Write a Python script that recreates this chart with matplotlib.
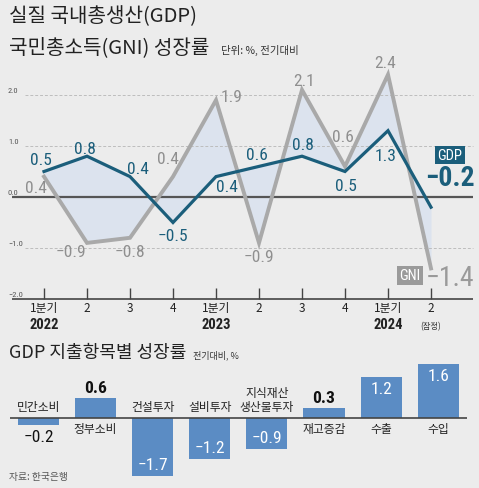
import matplotlib
matplotlib.use("Agg")
import matplotlib.pyplot as plt

# --- data ---
quarters = ["1분기", "2", "3", "4", "1분기", "2", "3", "4", "1분기", "2"]
years = {0: "2022", 4: "2023", 8: "2024"}
gdp = [0.5, 0.8, 0.4, -0.5, 0.4, 0.6, 0.8, 0.5, 1.3, -0.2]
gni = [0.4, -0.9, -0.8, 0.4, 1.9, -0.9, 2.1, 0.6, 2.4, -1.4]

items = ["민간소비", "정부소비", "건설투자", "설비투자", "지식재산\n생산물투자", "재고증감", "수출", "수입"]
item_vals = [-0.2, 0.6, -1.7, -1.2, -0.9, 0.3, 1.2, 1.6]

BG = "#ececec"
TEAL = "#1b5e7b"
GRAY = "#a9a9a9"
FILL = "#dce3ee"
BAR = "#5b8cc4"
KR = ["Noto Sans CJK KR", "DejaVu Sans"]
NARROW = ["Roboto Condensed", "Fira Sans Condensed", "DejaVu Sans"]

W, H = 479, 489
fig = plt.figure(figsize=(W / 100, H / 100), dpi=100, facecolor=BG)


def rect(x0, y0, x1, y1):
    return [x0 / W, 1 - y1 / H, (x1 - x0) / W, (y1 - y0) / H]


def num(v):
    return f"{v}".replace("-", "−")


# --- titles ---
fig.text(9 / W, 1 - 17 / H, "실질 국내총생산(GDP)", family=KR, fontsize=14.5,
         fontweight=500, va="center", ha="left", color="#222")
fig.text(9 / W, 1 - 48 / H, "국민총소득(GNI) 성장률", family=KR, fontsize=14.5,
         fontweight=500, va="center", ha="left", color="#222")
fig.text(221 / W, 1 - 50 / H, "단위: %, 전기대비", family=KR, fontsize=7.5,
         va="center", ha="left", color="#333")

# --- top chart ---
X0, DX, Y0, DY = 44, 43, 198, 51
ax = fig.add_axes(rect(0, 55, W, 335))
ax.set_facecolor(BG)
for s in ax.spines.values():
    s.set_visible(False)
ax.set_xticks([])
ax.set_yticks([])
px = lambda p: (p - X0) / DX
ax.set_xlim(px(0), px(W))
ax.set_ylim(-(335 - Y0) / DY, (Y0 - 55) / DY)

xs = list(range(len(gdp)))
for v in (2.0, 1.0, -1.0):
    ax.hlines(v, px(25), px(473), colors="#bdbdbd", linestyles=(0, (3, 2)), lw=0.7)
for v in (2.0, 1.0, 0.0, -1.0, -2.0):
    ax.text(px(8), v + 2 / DY, num(v), family=NARROW,
            fontsize=6, color="#555", va="bottom", ha="left")
ax.hlines(0, px(12), px(473), colors="#555", lw=1.6, zorder=2)
ax.hlines(-2.0, px(12), px(473), colors="#444", lw=1.2, zorder=2)
ax.vlines(xs, -2.0, -2.0 + 11 / DY, colors="#444", lw=1.0)

ax.fill_between(xs, gdp, gni, color=FILL, lw=0, zorder=1)
ax.plot(xs, gni, color=GRAY, lw=2.8, zorder=3, solid_joinstyle="miter")
ax.plot(xs, gdp, color=TEAL, lw=2.3, zorder=4, solid_joinstyle="miter")

for i, q in enumerate(quarters):
    ax.text(i, -2.0 - 9 / DY, q, family=KR, fontsize=8.5, color="#222",
            ha="center", va="center")
    if i in years:
        ax.text(i, -2.0 - 25 / DY, years[i], family=NARROW, fontsize=10.5,
                color="#222", ha="center", va="center", fontweight="bold")
ax.text(9, -2.0 - 27 / DY, "(잠정)", family=KR, fontsize=6, color="#333",
        ha="center", va="center")

# label offsets in pixels (dx, dy up)
gdp_off = [(-3, 12), (-2, 8), (8, 8), (0, -13), (11, -10), (-2, 12), (1, 12),
           (1, -14), (-2, -25)]
gni_off = [(-8, -11), (-16, -9), (0, -14), (-5, 18), (16, 4), (0, -14), (2, 9),
           (-2, 30), (-3, 12)]
for i, (dx, dy) in enumerate(gdp_off):
    ax.annotate(num(gdp[i]), (i, gdp[i]), xytext=(dx, dy),
                textcoords="offset pixels", ha="center", va="center",
                family=NARROW, fontsize=12.5, color=TEAL)
for i, (dx, dy) in enumerate(gni_off):
    ax.annotate(num(gni[i]), (i, gni[i]), xytext=(dx, dy),
                textcoords="offset pixels", ha="center", va="center",
                family=NARROW, fontsize=12.5, color="#8f8f8f")

ax.annotate(num(gdp[-1]), (9, gdp[-1]), xytext=(19, 30),
            textcoords="offset pixels", ha="center", va="center",
            family=NARROW, fontsize=20, color=TEAL, fontweight="bold")
ax.annotate("GDP", (9, gdp[-1]), xytext=(19, 52), textcoords="offset pixels",
            ha="center", va="center", family=NARROW, fontsize=10.5, color="white",
            bbox=dict(boxstyle="square,pad=0.15", fc=TEAL, ec="none"))
ax.annotate(num(gni[-1]), (9, gni[-1]), xytext=(19, -9),
            textcoords="offset pixels", ha="center", va="center",
            family=NARROW, fontsize=20, color="#9a9a9a")
ax.annotate("GNI", (9, gni[-1]), xytext=(-21, -7), textcoords="offset pixels",
            ha="center", va="center", family=NARROW, fontsize=10.5, color="white",
            bbox=dict(boxstyle="square,pad=0.15", fc="#9a9a9a", ec="none"))

# --- bottom chart ---
fig.text(9 / W, 1 - 353 / H, "GDP 지출항목별 성장률", family=KR, fontsize=13,
         fontweight=500, va="center", ha="left", color="#222")
fig.text(193 / W, 1 - 355 / H, "전기대비, %", family=KR, fontsize=6.5,
         va="center", ha="left", color="#333")

BX0, BDX, BY0, BDY = 38.5, 57.1, 419, 34
bx = fig.add_axes(rect(0, 360, W, H))
bx.set_facecolor("none")
for s in bx.spines.values():
    s.set_visible(False)
bx.set_xticks([])
bx.set_yticks([])
bpx = lambda p: (p - BX0) / BDX
bx.set_xlim(bpx(0), bpx(W))
bx.set_ylim(-(H - BY0) / BDY, (BY0 - 360) / BDY)

pos = list(range(len(items)))
bx.bar(pos, item_vals, width=0.72, color=BAR, zorder=2)
bx.hlines(0, bpx(10), bpx(467), colors="#444", lw=1.2, zorder=3)

for i, (name, v) in enumerate(zip(items, item_vals)):
    lbl = num(v)
    if v < 0:
        bx.text(i, 5 / BDY, name, family=KR, fontsize=8.5, color="#222",
                ha="center", va="bottom", linespacing=1.1)
        if abs(v) < 0.5:
            bx.text(i, v - 4 / BDY, lbl, family=NARROW, fontsize=12.5,
                    color="#111", ha="center", va="top")
        else:
            bx.text(i, v + 4 / BDY, lbl, family=NARROW, fontsize=12.5,
                    color="white", ha="center", va="bottom")
    else:
        bx.text(i, -4 / BDY, name, family=KR, fontsize=8.5, color="#222",
                ha="center", va="top")
        if v < 1.0:
            bx.text(i, v + 3 / BDY, lbl, family=NARROW, fontsize=12.5,
                    color="#111", ha="center", va="bottom", fontweight="bold")
        else:
            bx.text(i, v - 4 / BDY, lbl, family=NARROW, fontsize=12.5,
                    color="white", ha="center", va="top")

fig.text(9 / W, 1 - 477 / H, "자료: 한국은행", family=KR, fontsize=7,
         va="center", ha="left", color="#555")

fig.savefig("out.png", dpi=100, facecolor=BG)
